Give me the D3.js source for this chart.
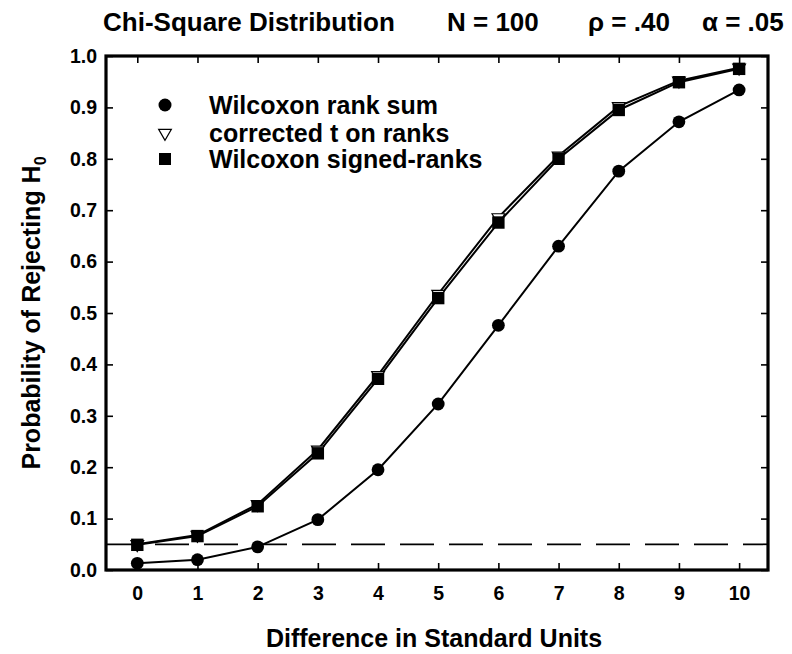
<!DOCTYPE html>
<html><head><meta charset="utf-8">
<script src="https://cdn.jsdelivr.net/npm/d3@7"></script>
<style>body{margin:0;background:#fff}svg text{font-family:"Liberation Sans",Arial,sans-serif;font-weight:bold;fill:#000}</style>
</head><body><svg id="c" width="792" height="654"></svg>
<script>
const xValues = [0,1,2,3,4,5,6,7,8,9,10];
const rankSum = [0.013,0.020,0.045,0.098,0.195,0.323,0.476,0.630,0.776,0.872,0.934];
const correctedT = [0.050,0.068,0.128,0.234,0.379,0.537,0.686,0.806,0.902,0.952,0.977];
const signedRanks = [0.049,0.066,0.124,0.227,0.372,0.529,0.676,0.800,0.895,0.949,0.975];
const xTicks = [0,1,2,3,4,5,6,7,8,9,10];
const yTicks = [0,0.1,0.2,0.3,0.4,0.5,0.6,0.7,0.8,0.9,1.0];
const alphaLevel = 0.05;
const seriesNames = ["Wilcoxon rank sum","corrected t on ranks","Wilcoxon signed-ranks"];
const titleParts = ["Chi-Square Distribution","N = 100","\u03C1 = .40","\u03B1 = .05"];

const svg = d3.select("#c");
const L=106, R=768, T=56, B=570;
const x = d3.scaleLinear().domain([-0.52,10.48]).range([L,R]);
const y = d3.scaleLinear().domain([0,1]).range([B,T]);

const tl=7;
const gx = svg.append("g").attr("transform",`translate(0,${B})`)
  .call(d3.axisBottom(x).tickValues(xTicks).tickSizeInner(-tl).tickSizeOuter(0).tickPadding(16).tickFormat(d3.format("d")));
gx.select(".domain").remove();
gx.selectAll("text").attr("font-size",19.5).attr("dy","0.71em");
const gxt = svg.append("g").attr("transform",`translate(0,${T})`)
  .call(d3.axisTop(x).tickValues(xTicks).tickSizeInner(-tl).tickSizeOuter(0).tickFormat(""));
gxt.select(".domain").remove();
const gy = svg.append("g").attr("transform",`translate(${L},0)`)
  .call(d3.axisLeft(y).tickValues(yTicks).tickSizeInner(-tl).tickSizeOuter(0).tickPadding(9).tickFormat(d3.format(".1f")));
gy.select(".domain").remove();
gy.selectAll("text").attr("font-size",19.5);
const gyr = svg.append("g").attr("transform",`translate(${R},0)`)
  .call(d3.axisRight(y).tickValues(yTicks).tickSizeInner(-tl).tickSizeOuter(0).tickFormat(""));
gyr.select(".domain").remove();
svg.selectAll(".tick line").attr("stroke","#000").attr("stroke-width",1.6);

svg.append("line").attr("x1",L).attr("x2",R).attr("y1",y(alphaLevel)).attr("y2",y(alphaLevel))
  .attr("stroke","#000").attr("stroke-width",1.7).attr("stroke-dasharray","34,15");

const line = d3.line().x((d,i)=>x(xValues[i])).y(d=>y(d));
function series(vals){ svg.append("path").datum(vals).attr("d",line).attr("fill","none").attr("stroke","#000").attr("stroke-width",2); }
series(rankSum);
series(correctedT);
series(signedRanks);

svg.append("g").selectAll("circle").data(rankSum).join("circle")
  .attr("cx",(d,i)=>x(xValues[i])).attr("cy",d=>y(d)).attr("r",6.4).attr("fill","#000");
const tri = d3.symbol().type(d3.symbolTriangle).size(70);
svg.append("g").selectAll("path").data(correctedT).join("path")
  .attr("d",tri).attr("transform",(d,i)=>`translate(${x(xValues[i])},${y(d)}) rotate(180)`)
  .attr("fill","#fff").attr("stroke","#000").attr("stroke-width",1.2);
svg.append("g").selectAll("rect").data(signedRanks).join("rect")
  .attr("x",(d,i)=>x(xValues[i])-6.2).attr("y",d=>y(d)-6.2).attr("width",12.4).attr("height",12.4).attr("fill","#000");

svg.append("rect").attr("x",L).attr("y",T).attr("width",R-L).attr("height",B-T)
  .attr("fill","none").attr("stroke","#000").attr("stroke-width",3.2);

const lg = svg.append("g");
const lx=165, tx=209, ly=[105,133,159];
lg.append("circle").attr("cx",lx).attr("cy",ly[0]).attr("r",6.5).attr("fill","#000");
lg.append("path").attr("d",tri).attr("transform",`translate(${lx},${ly[1]}) rotate(180)`).attr("fill","#fff").attr("stroke","#000").attr("stroke-width",1.2);
lg.append("rect").attr("x",lx-6).attr("y",ly[2]-6).attr("width",12).attr("height",12).attr("fill","#000");
seriesNames.forEach((n,i)=>lg.append("text").attr("x",tx).attr("y",ly[i]).attr("dy","0.36em").attr("font-size",25).text(n));

const titleX=[103,447,588,702];
titleParts.forEach((t,i)=>svg.append("text").attr("x",titleX[i]).attr("y",31).attr("font-size",26).text(t));

svg.append("text").attr("x",(L+R)/2 - 3).attr("y",647).attr("text-anchor","middle").attr("font-size",25).text("Difference in Standard Units");
const yl = svg.append("text").attr("transform",`translate(40,${(T+B)/2}) rotate(-90)`).attr("text-anchor","middle").attr("font-size",25);
yl.append("tspan").text("Probability of Rejecting H");
yl.append("tspan").attr("font-size",16).attr("dy",6).text("0");
</script></body></html>
